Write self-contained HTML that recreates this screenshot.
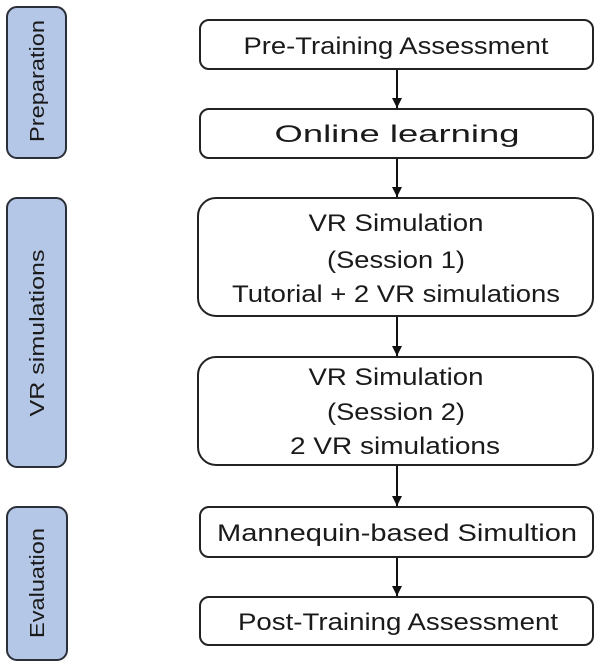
<!DOCTYPE html>
<html><head><meta charset="utf-8"><style>
html,body{margin:0;padding:0;background:#fff;}
svg{display:block;}
text{font-family:"Liberation Sans",sans-serif;fill:#1a1a1a;}
</style></head><body>
<svg width="600" height="668" viewBox="0 0 600 668" xmlns="http://www.w3.org/2000/svg">
<defs><marker id="a" markerWidth="12" markerHeight="12" refX="10" refY="5" orient="auto" markerUnits="userSpaceOnUse"><path d="M0,0 L10,5 L0,10 Z" fill="#111"/></marker></defs>
<g fill="#b4c7e7" stroke="#2a2f38" stroke-width="2">
<rect x="7" y="7" width="59" height="151" rx="10"/>
<rect x="7" y="198" width="59" height="269" rx="10"/>
<rect x="7" y="507" width="60" height="153" rx="10"/>
</g>
<g font-size="20" text-anchor="middle">
<text transform="translate(44,81) rotate(-90)" textLength="122" lengthAdjust="spacingAndGlyphs">Preparation</text>
<text transform="translate(44,333) rotate(-90)" textLength="167" lengthAdjust="spacingAndGlyphs">VR  simulations</text>
<text transform="translate(44,583) rotate(-90)" textLength="110" lengthAdjust="spacingAndGlyphs">Evaluation</text>
</g>
<g fill="#fff" stroke="#222" stroke-width="2">
<rect x="200" y="20" width="393" height="49" rx="9"/>
<rect x="200" y="109" width="393" height="49" rx="9"/>
<rect x="198" y="198" width="395" height="118" rx="18"/>
<rect x="198" y="357" width="395" height="108" rx="18"/>
<rect x="200" y="507" width="393" height="50" rx="9"/>
<rect x="200" y="597" width="393" height="48" rx="9"/>
</g>
<g stroke="#111" stroke-width="2" marker-end="url(#a)">
<line x1="397" y1="70" x2="397" y2="108"/>
<line x1="397" y1="159" x2="397" y2="197"/>
<line x1="397" y1="317" x2="397" y2="356"/>
<line x1="397" y1="466" x2="397" y2="506"/>
<line x1="397" y1="558" x2="397" y2="596"/>
</g>
<g font-size="24" text-anchor="middle">
<text x="396" y="54" textLength="305" lengthAdjust="spacingAndGlyphs">Pre-Training Assessment</text>
<text x="397" y="142" textLength="245" lengthAdjust="spacingAndGlyphs">Online learning</text>
<text x="396" y="231" textLength="175" lengthAdjust="spacingAndGlyphs">VR Simulation</text>
<text x="396" y="268" textLength="138" lengthAdjust="spacingAndGlyphs">(Session 1)</text>
<text x="396" y="302" textLength="328" lengthAdjust="spacingAndGlyphs">Tutorial + 2 VR simulations</text>
<text x="396" y="385" textLength="175" lengthAdjust="spacingAndGlyphs">VR Simulation</text>
<text x="396" y="420" textLength="138" lengthAdjust="spacingAndGlyphs">(Session 2)</text>
<text x="395" y="454" textLength="210" lengthAdjust="spacingAndGlyphs">2 VR simulations</text>
<text x="397" y="541" textLength="360" lengthAdjust="spacingAndGlyphs">Mannequin-based Simultion</text>
<text x="398" y="630" textLength="320" lengthAdjust="spacingAndGlyphs">Post-Training Assessment</text>
</g>
</svg>
</body></html>
